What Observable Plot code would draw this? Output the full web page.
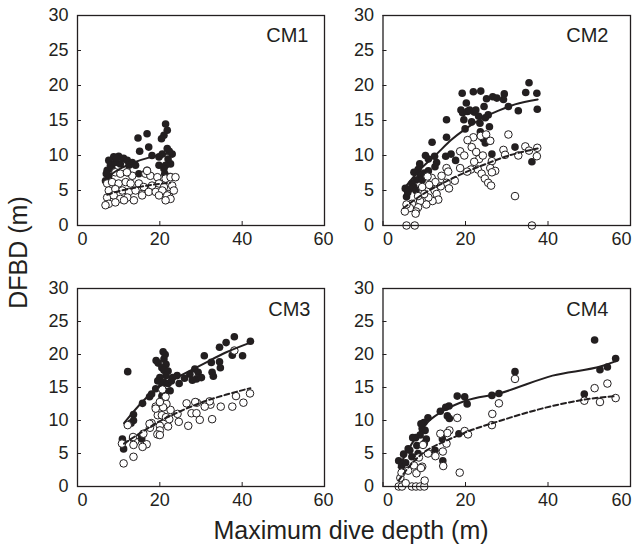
<!DOCTYPE html>
<html><head><meta charset="utf-8">
<script src="https://cdn.jsdelivr.net/npm/d3@7"></script>
<script src="https://cdn.jsdelivr.net/npm/@observablehq/plot@0.6"></script>
<style>
body{margin:0;background:#fff;}
#chart{position:relative;width:638px;height:549px;overflow:hidden;font-family:"Liberation Sans",Arial,Helvetica,sans-serif;}
#chart svg{position:absolute;}
</style></head><body><div id="chart"></div>
<script>
// ---- data ----
const xTicks = [0, 20, 40, 60];
const yTicks = [0, 5, 10, 15, 20, 25, 30];
const panelNames = ["CM1", "CM2", "CM3", "CM4"];
const xTitle = "Maximum dive depth (m)";
const yTitle = "DFBD (m)";

const cm1Filled = [[21.4,14.5],[21.8,13.6],[21.0,12.9],[20.4,12.4],[16.9,13.1],[14.7,12.5],[17.3,11.2],[15.1,10.6],[21.8,11.0],[23.0,10.2],[20.6,10.2],[19.8,9.8],[18.1,10.0],[22.6,8.8],[21.4,8.6],[21.0,8.1],[19.8,8.6],[14.9,7.4],[16.9,7.9],[8.8,9.8],[10.0,9.9],[11.2,9.6],[12.1,9.3],[13.3,9.0],[7.6,9.3],[8.0,8.6],[7.2,7.9],[7.6,7.1],[6.8,6.4],[9.2,9.0],[10.4,8.8],[12.5,8.6],[8.4,8.1],[14.1,8.6],[22.3,10.6],[22.0,9.5],[21.2,7.4],[22.5,7.0],[7.0,7.4],[9.5,9.6]];
const cm1Open = [[9.2,7.6],[10.4,7.4],[12.1,7.6],[13.3,7.1],[16.5,7.4],[17.7,7.1],[19.4,6.9],[21.4,6.7],[22.6,6.9],[23.8,6.9],[7.2,6.0],[8.4,6.2],[10.0,6.0],[11.7,6.2],[12.9,6.0],[14.9,6.0],[16.1,5.5],[18.1,5.7],[19.8,6.0],[21.0,5.5],[23.0,5.7],[7.6,5.0],[9.2,5.2],[10.9,5.0],[12.5,4.8],[14.1,5.0],[15.7,4.5],[17.3,4.8],[19.0,4.8],[20.6,5.0],[22.2,4.5],[23.4,5.0],[7.2,4.0],[8.8,4.3],[10.4,3.8],[12.1,4.0],[13.7,3.6],[15.7,4.3],[19.8,4.3],[21.8,4.3],[22.6,3.8],[7.6,3.1],[9.2,3.3],[11.3,3.6],[6.8,2.9],[21.4,3.6],[16.9,7.8],[12.0,7.6]];
const cm1Solid = [[7.2,6.9],[10,8.0],[13.7,9.0],[18,9.8],[22,10.3]];
const cm1Dashed = [[7.2,4.4],[10,4.9],[14,5.4],[18,5.8],[22.5,6.1]];

const cm2Filled = [[19.2,18.9],[21.9,19.1],[23.7,19.2],[25.1,18.1],[26.6,18.4],[27.6,18.2],[29.4,18.8],[29.2,18.0],[35.4,20.4],[34.6,19.0],[37.3,18.9],[37.4,16.6],[30.4,17.0],[32.8,16.4],[18.9,16.5],[19.3,16.1],[20.5,16.3],[21.0,16.5],[22.1,16.2],[19.6,15.1],[21.5,14.8],[23.5,14.6],[19.9,13.8],[24.5,17.0],[25.5,15.8],[24.8,15.4],[25.8,14.1],[23.6,13.4],[24.3,12.4],[24.8,11.8],[26.0,12.1],[15.4,15.1],[15.4,12.6],[11.9,11.9],[15.2,9.9],[16.5,10.2],[17.6,9.3],[26.4,10.2],[32.0,11.2],[36.1,9.1],[10.3,10.0],[11.0,9.5],[12.5,9.9],[13.0,9.0],[12.6,8.4],[8.9,8.8],[8.5,8.0],[7.5,7.6],[9.0,7.1],[8.0,6.5],[7.0,6.0],[7.5,5.5],[6.5,5.2],[5.4,5.3],[5.7,4.1],[6.0,4.7],[10.0,7.5],[11.0,7.8],[9.5,6.5],[8.0,5.0],[22.5,16.5],[23.2,15.6],[20.2,17.5]];
const cm2Open = [[5.7,0],[7.7,0],[36.1,0],[32.0,4.2],[30.4,13.0],[21.9,12.6],[23.7,12.8],[20.5,12.2],[26.0,12.1],[21.5,11.2],[18.7,10.6],[19.7,10.0],[23.3,9.5],[24.2,10.0],[22.1,9.1],[26.4,9.2],[29.2,10.8],[29.6,10.1],[32.8,10.0],[34.5,11.3],[35.4,10.7],[37.4,11.1],[37.3,9.9],[18.7,8.2],[21.3,8.0],[20.4,7.7],[23.0,8.0],[23.9,7.4],[26.0,8.2],[27.2,7.8],[26.4,7.6],[24.7,6.7],[25.5,6.1],[26.2,5.7],[15.4,8.2],[15.8,7.7],[15.4,6.1],[16.0,5.3],[17.4,6.4],[11.8,6.8],[12.7,6.2],[14.0,5.6],[12.5,5.0],[13.0,4.5],[13.4,3.7],[12.0,3.5],[11.0,4.0],[10.5,3.0],[9.5,5.5],[10.0,4.5],[9.0,3.5],[8.5,2.6],[8.0,2.0],[7.9,1.7],[7.0,3.1],[6.5,2.5],[5.3,2.0],[5.7,3.0],[8.5,4.2],[11.2,5.8],[10.8,7.0],[14.2,7.1],[25.0,13.0],[22.6,10.5]];
const cm2Solid = [[5,5.2],[9,8.0],[13,10.2],[16.5,12.2],[20,13.8],[24,15.3],[28,16.4],[32,17.3],[37.5,18.0]];
const cm2Dashed = [[5,2.5],[10,4.6],[15,6.2],[20,7.6],[25,8.8],[30,9.9],[37.5,11.0]];

const cm3Filled = [[12.2,17.4],[38.1,22.7],[42.0,22.0],[36.1,21.8],[34.5,21.1],[37.6,19.9],[40.1,19.8],[30.8,19.8],[32.5,18.8],[34.5,18.9],[34.7,18.0],[32.7,17.3],[33.0,16.7],[28.5,17.8],[29.3,17.3],[27.3,17.0],[28.9,16.3],[27.9,16.1],[30.1,16.5],[24.2,16.8],[24.7,15.6],[23.1,16.5],[20.8,20.4],[19.1,19.1],[19.6,18.7],[21.0,19.3],[21.5,18.5],[20.5,18.0],[21.0,17.6],[22.0,17.5],[21.5,16.8],[20.0,16.5],[19.5,16.0],[21.0,15.8],[22.0,15.6],[20.5,15.3],[21.0,14.5],[22.5,14.5],[19.0,14.8],[20.5,13.7],[18.0,14.0],[17.5,13.6],[15.8,12.6],[13.6,10.9],[13.6,10.0],[13.0,9.6],[15.6,7.7],[15.6,7.2],[10.9,7.2],[11.0,6.8],[11.2,5.7],[13.4,7.3],[22.8,16.0],[26.0,16.4],[21.3,20.0]];
const cm3Open = [[38.1,20.6],[41.9,14.1],[38.5,13.7],[40.3,12.7],[37.6,12.1],[34.8,12.1],[32.3,12.4],[32.1,12.9],[30.9,12.1],[29.0,12.7],[28.6,12.8],[26.5,12.6],[27.7,11.1],[28.9,11.1],[29.7,10.1],[32.7,10.2],[26.9,9.2],[24.6,9.8],[24.3,11.0],[22.6,11.6],[21.6,12.5],[20.8,12.0],[20.6,14.7],[21.4,13.6],[19.0,12.1],[20.0,12.8],[19.5,10.8],[20.5,10.8],[21.5,10.5],[22.0,9.1],[20.0,9.2],[20.0,8.5],[19.4,7.9],[20.0,7.8],[17.6,8.9],[18.0,9.6],[16.8,6.4],[15.8,6.0],[14.0,6.8],[13.6,6.3],[12.2,9.3],[13.5,7.5],[10.8,6.5],[11.2,3.5],[13.6,4.5],[16.0,8.0],[17.5,9.5],[19.0,11.8],[22.3,10.2]];
const cm3Solid = [[11.3,9.6],[16,13.0],[20,15.2],[25,16.8],[30,18.4],[36,20.3],[42,21.8]];
const cm3Dashed = [[11.3,6.5],[15,8.0],[20,9.9],[25,11.4],[30,12.7],[36,13.9],[42,14.9]];

const cm4Filled = [[51.3,22.2],[56.4,19.4],[52.6,17.7],[54.4,18.1],[48.8,14.0],[32.0,17.4],[26.4,13.8],[28.1,14.1],[18.0,13.7],[19.8,13.6],[20.4,12.5],[16.0,12.2],[15.2,12.0],[13.9,11.4],[15.6,10.7],[16.1,10.3],[10.9,10.4],[9.9,9.7],[9.5,8.8],[10.2,8.5],[9.0,7.8],[10.5,7.2],[7.9,7.4],[7.2,7.4],[6.1,5.7],[5.0,4.9],[3.8,3.9],[14.4,7.2],[12.6,5.5],[14.5,3.9],[18.4,8.0],[4.5,3.1],[7.0,4.5],[8.5,5.0],[10.0,6.5],[6.5,5.5],[8.2,6.2],[9.2,9.5],[5.5,3.6]];
const cm4Open = [[32.0,16.3],[51.3,14.9],[54.4,15.6],[56.4,13.4],[52.6,12.8],[48.8,13.0],[28.1,12.6],[26.5,11.0],[26.4,9.3],[18.0,10.4],[19.8,8.4],[20.6,7.9],[16.1,8.5],[15.6,8.1],[13.9,8.0],[15.4,6.5],[14.5,5.3],[14.6,3.1],[12.7,4.6],[10.9,5.0],[18.6,2.1],[9.7,6.3],[8.7,4.4],[9.5,3.0],[8.1,2.0],[6.1,2.4],[4.2,1.3],[4.5,2.1],[3.8,0],[4.6,0],[7.0,0],[8.0,0],[9.0,0],[10.0,0],[10.1,0.9],[9.2,2.8],[5.5,0.5],[7.5,3.2]];
const cm4Solid = [[3.8,2.9],[7,6.5],[11.1,9.9],[15,11.6],[20,13.0],[28.1,14.1],[41.1,16.8],[53.3,18.3],[56.5,19.0]];
const cm4Dashed = [[3.8,0.9],[7,3.5],[10,5.2],[15.2,6.9],[20,8.2],[28.1,9.9],[41.1,12.2],[49.2,13.2],[56.5,13.7]];

// ---- layout ----
const ink = "#231f20";
const font = '"Liberation Sans", Arial, Helvetica, sans-serif';
const panels = [
  {name: panelNames[0], filled: cm1Filled, open: cm1Open, solid: cm1Solid, dashed: cm1Dashed, left: 0,   top: 0,   mt: 15, ml: 77,   w: 247,   h: 210, labelDx: -16, labelDy: 12.5, lastDx: -1},
  {name: panelNames[1], filled: cm2Filled, open: cm2Open, solid: cm2Solid, dashed: cm2Dashed, left: 305, top: 0,   mt: 15, ml: 77.5, w: 247.5, h: 210, labelDx: -22, labelDy: 12.5, lastDx: -9},
  {name: panelNames[2], filled: cm3Filled, open: cm3Open, solid: cm3Solid, dashed: cm3Dashed, left: 0,   top: 260, mt: 28, ml: 77,   w: 247,   h: 198, labelDx: -14, labelDy: 13.7, lastDx: -1},
  {name: panelNames[3], filled: cm4Filled, open: cm4Open, solid: cm4Solid, dashed: cm4Dashed, left: 305, top: 260, mt: 28, ml: 77.5, w: 247.5, h: 198, labelDx: -22, labelDy: 13.7, lastDx: -9}
];

const chart = document.getElementById("chart");

function makePanel(p) {
  const mr = 8, mb = 30;
  const first = xTicks.slice(0, 1), middle = xTicks.slice(1, -1), last = xTicks.slice(-1);
  const axisStyle = {tickSize: 0, tickPadding: 7, label: null, fontSize: 18, fill: ink};
  const svg = Plot.plot({
    width: p.ml + p.w + mr,
    height: p.mt + p.h + mb,
    marginLeft: p.ml, marginRight: mr, marginTop: p.mt, marginBottom: mb,
    x: {domain: [0, 60]},
    y: {domain: [0, 30]},
    style: {fontFamily: font, fontSize: "18px", color: ink, background: "transparent", overflow: "visible"},
    marks: [
      Plot.dot(p.filled, {x: d => d[0], y: d => d[1], r: 3.8, fill: ink}),
      Plot.dot(p.open, {x: d => d[0], y: d => d[1], r: 3.8, fill: "white", stroke: ink, strokeWidth: 1}),
      Plot.line(p.solid, {x: d => d[0], y: d => d[1], stroke: ink, strokeWidth: 2, curve: "monotone-x"}),
      Plot.line(p.dashed, {x: d => d[0], y: d => d[1], stroke: ink, strokeWidth: 2, strokeDasharray: "5,3", curve: "monotone-x"}),
      Plot.tickX(xTicks, {x: d => d, insetTop: p.h - 4, stroke: ink, strokeWidth: 1}),
      Plot.tickY(yTicks, {y: d => d, insetRight: p.w - 4, stroke: ink, strokeWidth: 1}),
      Plot.axisX(first, {...axisStyle, dx: 5}),
      Plot.axisX(middle, {...axisStyle}),
      Plot.axisX(last, {...axisStyle, dx: p.lastDx}),
      Plot.axisY(yTicks, {tickSize: 0, tickPadding: 9, label: null, fontSize: 18, fill: ink}),
      Plot.frame({stroke: ink, strokeWidth: 1.3}),
      Plot.text([p.name], {frameAnchor: "top-right", textAnchor: "end", lineAnchor: "top", dx: p.labelDx, dy: p.labelDy, fontSize: 20, fill: ink})
    ]
  });
  svg.style.left = p.left + "px";
  svg.style.top = p.top + "px";
  chart.appendChild(svg);
}
panels.forEach(makePanel);

// axis titles
const overlay = d3.create("svg").attr("width", 638).attr("height", 549)
  .style("left", "0px").style("top", "0px").style("pointer-events", "none");
overlay.append("text").attr("x", 351).attr("y", 539).attr("text-anchor", "middle")
  .attr("font-family", font).attr("font-size", 25).attr("fill", ink).text(xTitle);
overlay.append("text").attr("transform", "translate(27,252.5) rotate(-90)").attr("text-anchor", "middle")
  .attr("font-family", font).attr("font-size", 25).attr("fill", ink).text(yTitle);
chart.appendChild(overlay.node());
</script></body></html>
